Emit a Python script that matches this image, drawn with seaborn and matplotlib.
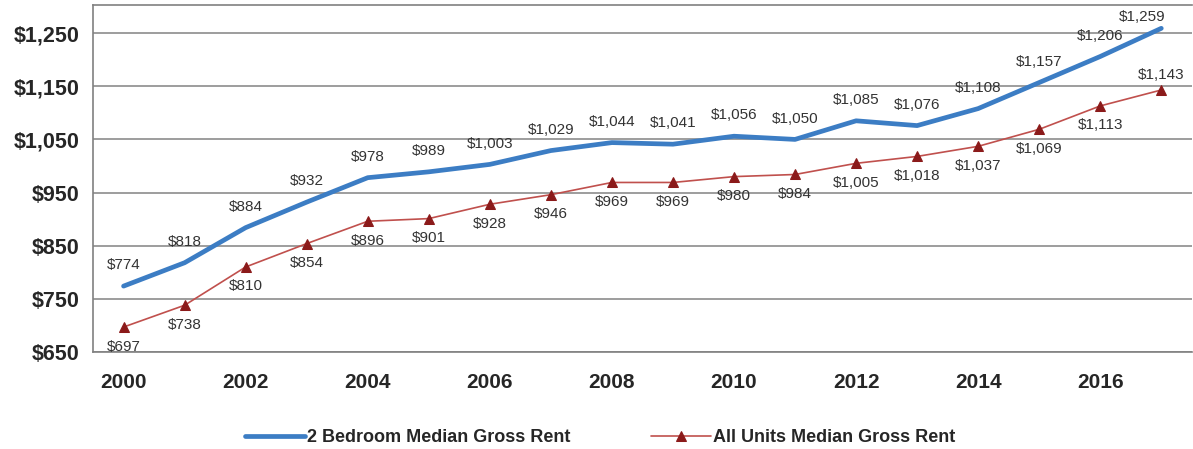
import pandas as pd
import numpy as np
import seaborn as sns
import matplotlib.pyplot as plt
from matplotlib.ticker import FixedLocator

years = list(range(2000, 2018))
two_bed = [774, 818, 884, 932, 978, 989, 1003, 1029, 1044, 1041, 1056, 1050,
           1085, 1076, 1108, 1157, 1206, 1259]
all_units = [697, 738, 810, 854, 896, 901, 928, 946, 969, 969, 980, 984,
             1005, 1018, 1037, 1069, 1113, 1143]
y_ticks = [650, 750, 850, 950, 1050, 1150, 1250]

df = pd.DataFrame({"pos": np.arange(len(years)), "year": years,
                   "two_bed": two_bed, "all_units": all_units})

sns.set_style("white")
plt.rcParams['font.family'] = ['Liberation Sans', 'DejaVu Sans']

fig = plt.figure(figsize=(11.93, 4.49), dpi=100)
ax = fig.add_axes([0.078, 0.216, 0.921, 0.773])

blue = "#3c7dc4"
red = "#c0504d"
dark_red = "#8b1a1a"

sns.lineplot(data=df, x="pos", y="two_bed", ax=ax, color=blue, linewidth=3.4,
             label="2 Bedroom Median Gross Rent", legend=False)
sns.lineplot(data=df, x="pos", y="all_units", ax=ax, color=red, linewidth=1.2,
             marker="^", markersize=7, markerfacecolor=dark_red,
             markeredgecolor=dark_red, label="All Units Median Gross Rent",
             legend=False)

# data labels: blue above, red below (last red one above)
n = len(years)
for i, v in enumerate(two_bed):
    off = (-14, 3) if i == n - 1 else (0, 10)
    ax.annotate(f"${v:,}", (i, v), xytext=off, textcoords="offset points",
                ha="center", va="bottom", fontsize=11, color="#333333")
for i, v in enumerate(all_units):
    above = i == n - 1
    ax.annotate(f"${v:,}", (i, v), xytext=(0, 6 if above else -9),
                textcoords="offset points", ha="center",
                va="bottom" if above else "top", fontsize=11, color="#333333")

ax.set_xlim(-0.5, n - 0.5)
ax.set_ylim(650, 1303)
ax.set_yticks(y_ticks)
ax.set_yticklabels([f"${t:,}" for t in y_ticks], fontsize=15.5, fontweight="bold")
ax.set_xticks(df["pos"][::2])
ax.set_xticklabels(df["year"][::2], fontsize=15, fontweight="bold")
ax.xaxis.set_minor_locator(FixedLocator(np.arange(-0.5, n, 1)))
ax.tick_params(axis="x", which="major", length=0, pad=15)
ax.tick_params(axis="x", which="minor", length=5, width=1, color="#808080",
               direction="out")
ax.tick_params(axis="y", length=6, width=1, color="#808080", direction="out",
               pad=4)
ax.set_xlabel("")
ax.set_ylabel("")

ax.grid(axis="y", color="#8c8c8c", linewidth=1.2)
ax.set_axisbelow(True)
for side in ["left", "top", "bottom"]:
    ax.spines[side].set_color("#808080")
    ax.spines[side].set_linewidth(1.2)
ax.spines["right"].set_visible(False)

handles, labels = ax.get_legend_handles_labels()
fig.legend(handles, labels, loc="center", bbox_to_anchor=(0.503, 0.025),
           ncol=2, frameon=False, prop={"weight": "bold", "size": 13},
           handlelength=3.3, columnspacing=4.5, handletextpad=0.1)

fig.savefig("out.png", dpi=100)
